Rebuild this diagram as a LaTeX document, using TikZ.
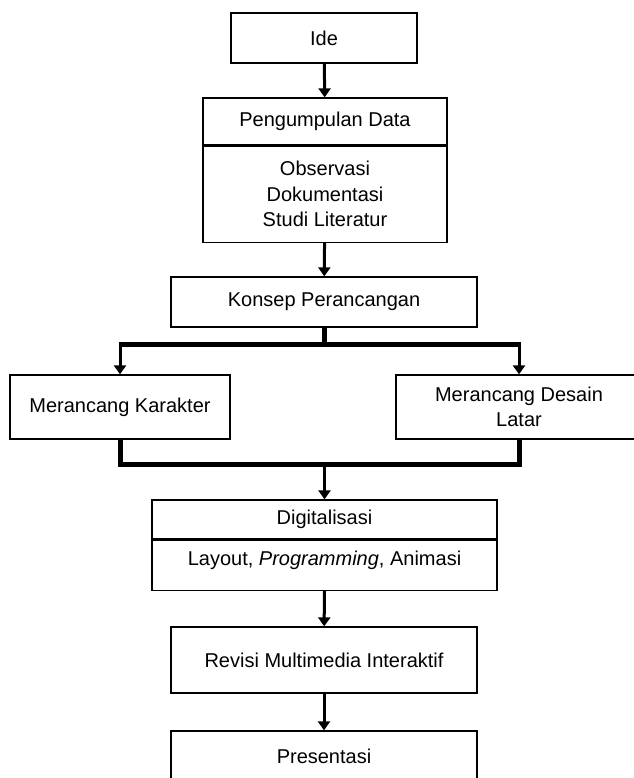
\documentclass[tikz,border=0pt]{standalone}
\usepackage{fontspec}
\setmainfont{Liberation Sans}
\usetikzlibrary{arrows.meta}

\begin{document}
\begin{tikzpicture}[x=1pt,y=-1pt,
        box/.style={draw,line width=1.3pt,minimum height=50pt,inner sep=0pt,align=center,
            font=\fontsize{20}{25.5}\selectfont},
        arr/.style={line width=3pt,-{Triangle[width=12pt,length=9pt]}},
        bus/.style={line width=5pt}]
        \useasboundingbox (0,0) rectangle (633,778);

        \node[box,minimum width=186pt] (ide) at (324,38) {Ide};
        \node[box,minimum width=244pt,minimum height=47pt] (pd) at (325,121.5) {Pengumpulan Data};
        \node[box,minimum width=244pt,minimum height=96pt,anchor=north] (pdisi) at (pd.south) {Observasi\\Dokumentasi\\Studi Literatur};

        \node[box,minimum width=306pt] (konsep) at (324,302) {Konsep Perancangan};

        \node[box,minimum width=220pt,minimum height=64pt] (karakter) at (120,407) {Merancang Karakter};
        \node[box,minimum width=246pt,minimum height=64pt] (latar) at (519,407) {Merancang Desain\\Latar};

        \node[box,minimum width=345pt,minimum height=39pt] (digital) at (324.5,519.5) {Digitalisasi};
        \node[box,minimum width=345pt,minimum height=50pt,anchor=north,text depth=14pt] (dgisi) at (digital.south) {Layout, \textit{Programming}, Animasi};

        \node[box,minimum width=306pt,minimum height=66pt] (revisi) at (324,660) {Revisi Multimedia Interaktif};
        \node[box,minimum width=306pt] (presentasi) at (324,756) {Presentasi};

        \coordinate (cabang) at (324,344);
        \coordinate (gabung) at (324,464);

        \draw[arr] (ide) -- (pd);
        \draw[arr] (pdisi) -- (konsep);

        \draw[bus] (konsep.south) -- (cabang);
        \draw[bus] ([xshift=-1.5pt]karakter.north |- cabang) -- ([xshift=1.5pt]latar.north |- cabang);
        \draw[arr] (karakter.north |- cabang) -- (karakter.north);
        \draw[arr] (latar.north |- cabang) -- (latar.north);

        \draw[bus] (karakter.south) -- (karakter.south |- gabung) -- (latar.south |- gabung) -- (latar.south);
        \draw[arr] (digital.north |- gabung) -- (digital.north);

        \draw[arr] (dgisi) -- (revisi);
        \draw[arr] (revisi) -- (presentasi);
    \end{tikzpicture}
\end{document}
